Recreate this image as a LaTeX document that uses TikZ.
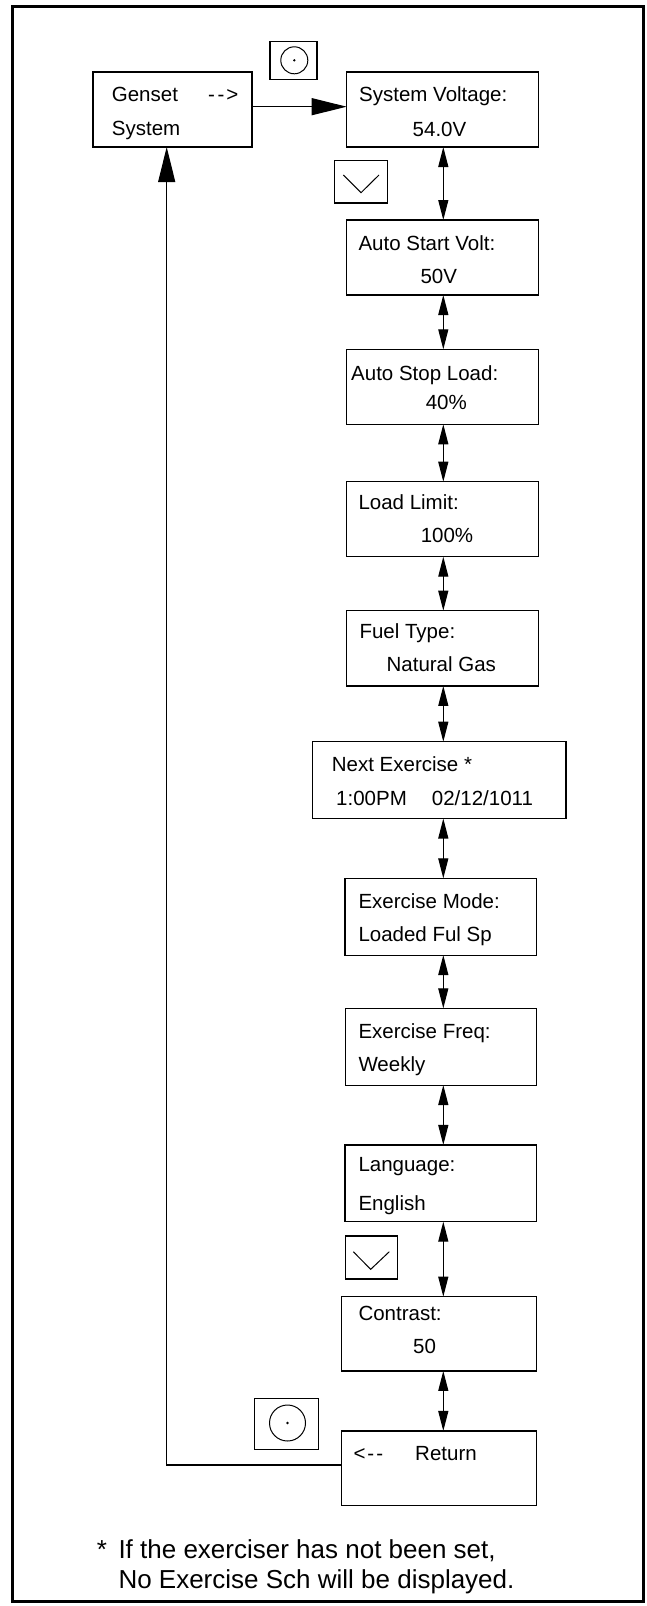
\documentclass[tikz,border=0pt]{standalone}
\usepackage{fontspec}
\setmainfont{Liberation Sans}
\usetikzlibrary{arrows.meta,calc}
\tikzset{
  box/.style={draw, line width=1.1pt, inner sep=0pt, outer sep=0pt},
  btn/.style={draw, line width=1.1pt, inner sep=0pt, outer sep=0pt},
  ring/.style={draw, circle, line width=1pt, inner sep=0pt},
  pip/.style={fill, circle, inner sep=0pt, minimum size=2.6pt},
  txt/.style={anchor=base west, inner sep=0pt, font=\fontsize{20.5}{24}\selectfont},
  ctxt/.style={anchor=base, inner sep=0pt, font=\fontsize{20.5}{24}\selectfont},
  note/.style={anchor=base west, inner sep=0pt, font=\fontsize{26}{30}\selectfont},
  dbl/.style={line width=1.2pt, {Triangle[length=20pt,width=10pt]}-{Triangle[length=20pt,width=10pt]}},
  big/.style={line width=1.1pt, -{Triangle[length=35pt,width=17pt]}},
  vee/.style={line width=1pt}
}
\begin{document}
\begin{tikzpicture}[x=1pt,y=-1pt]
\useasboundingbox (0,0) rectangle (647,1606);
\draw[line width=3pt] (12.5,6.5) rectangle (643.5,1601.5);

% helper coordinates
\coordinate (ax) at (443.3,0);
\coordinate (arow) at (0,106.7);
\coordinate (rrow) at (0,1465);
\coordinate (lcol) at (166.7,0);

% boxes
\node[box, minimum width=159pt, minimum height=75pt] (gen) at (172.5,109.5) {};
\node[box, minimum width=192pt, minimum height=75pt] (sv) at (442.7,109.5) {};
\node[box, minimum width=192pt, minimum height=75pt] (asv) at (442.8,257.5) {};
\node[box, minimum width=192pt, minimum height=75pt] (asl) at (442.8,386.8) {};
\node[box, minimum width=192pt, minimum height=75pt] (ll) at (442.7,519.2) {};
\node[box, minimum width=192pt, minimum height=75.3pt] (ft) at (442.7,648.3) {};
\node[box, minimum width=253.3pt, minimum height=76.8pt] (ne) at (439.3,780.1) {};
\node[box, minimum width=191.7pt, minimum height=76.7pt] (em) at (440.8,916.7) {};
\node[box, minimum width=191.5pt, minimum height=76.7pt] (ef) at (440.8,1046.7) {};
\node[box, minimum width=191.7pt, minimum height=76.7pt] (lang) at (440.8,1183.3) {};
\node[box, minimum width=195pt, minimum height=74.3pt] (con) at (439.2,1333.8) {};
\node[box, minimum width=195pt, minimum height=74.7pt] (ret) at (439.2,1468.3) {};

% texts
\node[txt] (t1a) at (111.7,101) {Genset};
\node[txt] (t1b) at (208,101) {-\kern2.5pt-\kern2pt>};
\node[txt] (t1c) at (111.7,135) {System};
\node[txt] (t2a) at (359,101) {System Voltage:};
\node[ctxt] (t2b) at (439.5,136) {54.0V};
\node[txt] (t3a) at (358.3,250) {Auto Start Volt:};
\node[ctxt] (t3b) at (438.8,283.3) {50V};
\node[txt] (t4a) at (351,380.7) {Auto Stop Load:};
\node[ctxt] (t4b) at (446.3,409.3) {40\%};
\node[txt] (t5a) at (358.3,509.3) {Load Limit:};
\node[ctxt] (t5b) at (447,542.7) {100\%};
\node[txt] (t6a) at (359.3,638) {Fuel Type:};
\node[ctxt] (t6b) at (441.3,671.7) {Natural Gas};
\node[txt] (t7a) at (331.7,771.7) {Next Exercise *};
\node[txt] (t7b) at (336,805) {1:00PM};
\node[txt] (t7c) at (431.7,805) {02/12/1011};
\node[txt] (t8a) at (358.3,908.3) {Exercise Mode:};
\node[txt] (t8b) at (358.3,941.7) {Loaded Ful Sp};
\node[txt] (t9a) at (358.3,1038.3) {Exercise Freq:};
\node[txt] (t9b) at (358.3,1071.7) {Weekly};
\node[txt] (t10a) at (358.3,1171.7) {Language:};
\node[txt] (t10b) at (358.3,1210) {English};
\node[txt] (t11a) at (358.3,1320) {Contrast:};
\node[ctxt] (t11b) at (424.5,1353.3) {50};
\node[txt] (t12a) at (353.3,1460) {<\kern2pt-\kern2pt-};
\node[txt] (t12b) at (415,1460) {Return};

% buttons
\node[btn, minimum width=47pt, minimum height=37.5pt] (b1) at (293.5,60.5) {};
\node[ring, minimum size=27pt] (b1c) at (294.3,60.3) {};
\node[pip] (b1d) at (b1c.center) {};
\node[btn, minimum width=53pt, minimum height=42.3pt] (v1) at (360.8,181.8) {};
\draw[vee] (v1.center) ++(-17.5,-6.8) -- ++(17.7,17.7) -- ++(18,-17.7);
\node[btn, minimum width=52.3pt, minimum height=43pt] (v2) at (371.2,1257.5) {};
\draw[vee] (v2.center) ++(-17.9,-5.8) -- ++(17.4,17.6) -- ++(18.6,-17.6);
\node[btn, minimum width=64pt, minimum height=50.7pt] (b2) at (286.3,1423.7) {};
\node[ring, minimum size=36pt] (b2c) at (287.5,1423) {};
\node[pip] (b2d) at (b2c.center) {};

% connectors
\draw[big] (gen.east |- arow) -- (sv.west |- arow);
\draw[big] (ret.west |- rrow) -| (gen.south -| lcol);
\draw[dbl] (sv.south -| ax) -- (asv.north -| ax);
\draw[dbl] (asv.south -| ax) -- (asl.north -| ax);
\draw[dbl] (asl.south -| ax) -- (ll.north -| ax);
\draw[dbl] (ll.south -| ax) -- (ft.north -| ax);
\draw[dbl] (ft.south -| ax) -- (ne.north -| ax);
\draw[dbl] (ne.south -| ax) -- (em.north -| ax);
\draw[dbl] (em.south -| ax) -- (ef.north -| ax);
\draw[dbl] (ef.south -| ax) -- (lang.north -| ax);
\draw[dbl] (lang.south -| ax) -- (con.north -| ax);
\draw[dbl] (con.south -| ax) -- (ret.north -| ax);

% footnote
\node[note] (fa) at (96.7,1558.3) {*};
\node[note] (fb) at (118.3,1558.3) {If the exerciser has not been set,};
\node[note] (fc) at (118.3,1588.3) {No Exercise Sch will be displayed.};
\end{tikzpicture}
\end{document}
